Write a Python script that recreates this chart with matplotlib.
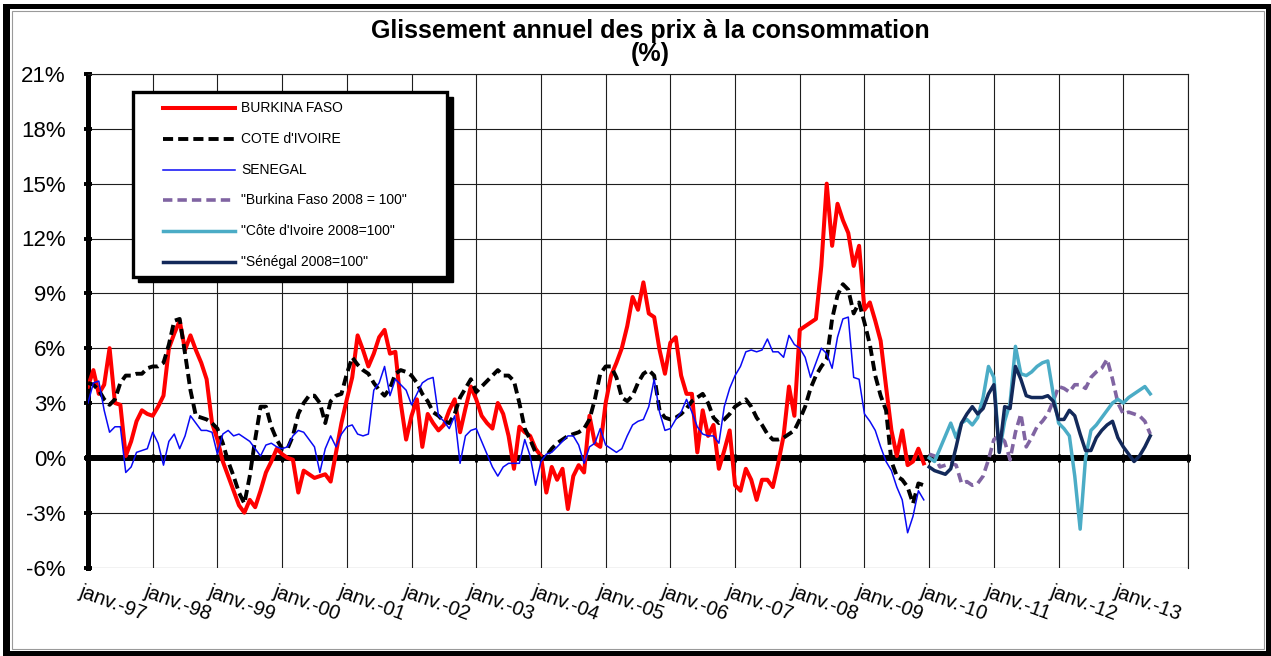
#!/usr/bin/env python3
"""Glissement annuel des prix a la consommation : Burkina Faso, Cote d'Ivoire, Senegal."""

import numpy as np
import matplotlib
matplotlib.use('Agg')
import matplotlib.pyplot as plt
from matplotlib.patches import Rectangle
from matplotlib.transforms import ScaledTranslation

plt.rcParams['font.family'] = ['Liberation Sans', 'DejaVu Sans']

# Monthly year-on-year change in consumer prices (%), janv.-97 .. dec.-09
burkina = [
    3.9, 4.8, 3.5, 4.0, 6.0, 3.0, 2.9, 0.1, 0.9, 2.0, 2.6, 2.4,
    2.3, 2.8, 3.4, 6.0, 6.8, 7.5, 5.9, 6.7, 5.9, 5.2, 4.3, 1.9,
    1.0, -0.2, -1.0, -1.8, -2.6, -3.0, -2.3, -2.7, -1.8, -0.8, -0.2, 0.5,
    0.2, 0.0, -0.1, -1.9, -0.7, -0.9, -1.1, -1.0, -0.9, -1.3, 0.3, 1.9,
    3.2, 4.4, 6.7, 5.9, 5.0, 5.7, 6.6, 7.0, 5.7, 5.8, 3.0, 1.0,
    2.3, 3.2, 0.6, 2.4, 1.9, 1.5, 1.8, 2.6, 3.2, 1.4, 2.7, 3.9,
    3.2, 2.3, 1.9, 1.6, 3.0, 2.4, 1.2, -0.6, 1.7, 1.4, 1.2, 0.5,
    0.1, -1.9, -0.5, -1.2, -0.6, -2.8, -1.0, -0.4, -0.8, 2.3, 0.8, 0.6,
    3.0, 4.5, 5.2, 6.0, 7.2, 8.8, 8.1, 9.6, 7.9, 7.7, 5.9, 4.6,
    6.3, 6.6, 4.5, 3.5, 3.5, 0.3, 2.6, 1.2, 1.8, -0.6, 0.4, 1.5,
    -1.5, -1.8, -0.6, -1.2, -2.3, -1.2, -1.2, -1.6, -0.3, 1.2, 3.9, 2.3,
    7.0, 7.2, 7.4, 7.6, 10.5, 15.0, 11.6, 13.9, 13.0, 12.3, 10.5, 11.6,
    8.1, 8.5, 7.5, 6.4, 3.9, 1.5, 0.1, 1.5, -0.4, -0.2, 0.5, -0.3,
]
cote_ivoire = [
    4.1, 4.0, 3.7, 3.2, 2.9, 3.2, 4.1, 4.5, 4.5, 4.6, 4.6, 4.9,
    5.0, 5.0, 5.2, 6.2, 7.5, 7.6, 5.7, 3.7, 2.3, 2.2, 2.1, 1.9,
    1.6, 0.8, -0.2, -1.0, -1.9, -2.5, -1.0, 1.0, 2.8, 2.8, 1.7, 1.0,
    0.5, 0.5, 1.2, 2.4, 3.0, 3.4, 3.4, 3.0, 1.9, 3.1, 3.4, 3.5,
    4.6, 5.5, 5.1, 4.8, 4.6, 4.1, 3.7, 3.4, 3.8, 4.6, 4.8, 4.7,
    4.5, 4.1, 3.5, 3.1, 2.5, 2.3, 2.0, 1.9, 2.4, 3.3, 3.8, 4.3,
    3.6, 3.9, 4.2, 4.5, 4.8, 4.5, 4.5, 4.2, 3.0, 1.6, 1.0, 0.3,
    -0.1, 0.1, 0.5, 0.8, 1.0, 1.2, 1.3, 1.4, 1.6, 2.1, 3.2, 4.6,
    5.0, 5.0, 4.4, 3.3, 3.1, 3.4, 4.1, 4.6, 4.8, 4.5, 2.6, 2.2,
    2.1, 2.2, 2.4, 2.7, 3.1, 3.3, 3.5, 3.0, 2.2, 1.9, 2.1, 2.4,
    2.8, 3.0, 3.2, 2.8, 2.2, 1.8, 1.3, 1.0, 1.0, 1.1, 1.3, 1.5,
    2.1, 2.8, 3.8, 4.5, 5.0, 5.4, 7.6, 8.9, 9.5, 9.2, 7.9, 8.5,
    7.4, 6.2, 4.5, 3.4, 2.6, -0.2, -1.0, -1.2, -1.6, -2.5, -1.4, -1.5,
]
senegal = [
    3.0, 4.1, 4.2, 2.6, 1.4, 1.7, 1.7, -0.8, -0.5, 0.3, 0.4, 0.5,
    1.4, 0.8, -0.4, 0.9, 1.3, 0.5, 1.2, 2.3, 1.9, 1.5, 1.5, 1.4,
    0.2, 1.3, 1.5, 1.2, 1.3, 1.1, 0.9, 0.5, 0.1, 0.7, 0.8, 0.6,
    0.5, 0.6, 1.2, 1.5, 1.4, 1.0, 0.6, -0.8, 0.5, 1.2, 0.6, 1.3,
    1.7, 1.8, 1.3, 1.2, 1.3, 3.7, 4.1, 5.0, 3.4, 4.3, 4.0, 3.7,
    2.9, 3.5, 4.1, 4.3, 4.4, 2.3, 2.0, 1.6, 2.3, -0.3, 1.2, 1.5,
    1.6, 0.9, 0.2, -0.5, -1.0, -0.5, -0.3, -0.3, -0.3, 1.0, 0.1, -1.5,
    -0.2, 0.2, 0.3, 0.6, 0.9, 1.2, 1.2, 0.7, -0.3, 0.6, 0.8, 1.6,
    0.7, 0.5, 0.3, 0.5, 1.2, 1.8, 2.0, 2.1, 2.8, 4.3, 2.5, 1.5,
    1.6, 2.1, 2.5, 3.2, 2.5, 1.7, 1.3, 1.2, 1.2, 0.8, 2.8, 3.8,
    4.5, 5.0, 5.8, 5.9, 5.8, 5.9, 6.5, 5.8, 5.8, 5.5, 6.7, 6.2,
    6.0, 5.5, 4.4, 5.2, 6.0, 5.7, 4.9, 6.6, 7.6, 7.7, 4.4, 4.3,
    2.4, 2.0, 1.5, 0.6, -0.2, -0.7, -1.6, -2.3, -4.1, -3.2, -1.8, -2.3,
]

# Rebased indices (2008 = 100), janv.-10 .. juin-13
burkina_2008 = [
    0.2, 0.1, -0.5, -0.4, -0.3, -0.4, -1.4, -1.3, -1.5, -1.4, -1.0, -0.1,
    1.0, 1.2, 0.9, -0.1, 1.4, 2.4, 0.6, 1.1, 1.7, 2.0, 2.4, 3.1,
    3.9, 3.8, 3.6, 4.0, 4.0, 3.8, 4.4, 4.7, 4.9, 5.4, 4.3, 3.0,
    2.4, 2.5, 2.4, 2.3, 2.0, 1.3,
]
cote_ivoire_2008 = [
    0.0, -0.2, 0.5, 1.2, 1.9, 1.1, 1.9, 2.1, 1.8, 2.2, 3.3, 5.0,
    4.4, 0.3, 2.0, 3.0, 6.1, 4.6, 4.5, 4.7, 5.0, 5.2, 5.3, 3.5,
    1.9, 1.6, 1.2, -1.0, -3.9, 0.0, 1.5, 1.8, 2.2, 2.6, 3.0, 3.2,
    3.0, 3.3, 3.5, 3.7, 3.9, 3.5,
]
senegal_2008 = [
    -0.5, -0.7, -0.8, -0.9, -0.6, 0.6, 1.9, 2.4, 2.8, 2.4, 2.7, 3.5,
    4.0, 0.3, 2.8, 2.7, 5.0, 4.3, 3.4, 3.3, 3.3, 3.3, 3.4, 3.1,
    2.1, 2.1, 2.6, 2.3, 1.3, 0.4, 0.4, 1.1, 1.5, 1.8, 2.0, 1.1,
    0.6, 0.2, -0.2, 0.1, 0.6, 1.2,
]

labels = [
    'BURKINA FASO',
    "COTE d'IVOIRE",
    'SENEGAL',
    '"Burkina Faso 2008 = 100"',
    '"C\u00f4te d\'Ivoire 2008=100"',
    '"S\u00e9n\u00e9gal 2008=100"',
]
start_years = [1997, 1997, 1997, 2010, 2010, 2010]
years = list(range(1997, 2015))
y_ticks = list(range(-6, 22, 3))

W, H = 1271, 656


def months(start, values):
    return start + np.arange(len(values)) / 12


def px_box(fig, x0, y0, x1, y1, **kw):
    """Rectangle given in pixel coordinates (origin top left)."""
    fig.add_artist(Rectangle((x0 / W, 1 - y1 / H), (x1 - x0) / W, (y1 - y0) / H,
                             transform=fig.transFigure, **kw))


def draw_frame(fig):
    for box in [(3, 4, 1271, 9), (3, 4, 10, 656), (3, 651, 1271, 656), (1266, 4, 1271, 656)]:
        px_box(fig, *box, facecolor='black', edgecolor='none')
    px_box(fig, 12, 11, 1264, 649, fill=False, edgecolor='#9a9a9a', linewidth=0.8)


def draw_legend(ax, styles):
    x0, y0, w, h = 0.0409, 0.5887, 0.2855, 0.3748
    ax.add_patch(Rectangle((x0 + 0.005, y0 - 0.011), w, h, transform=ax.transAxes,
                           facecolor='black', edgecolor='black', zorder=8))
    ax.add_patch(Rectangle((x0, y0), w, h, transform=ax.transAxes,
                           facecolor='white', edgecolor='black', linewidth=2.4, zorder=9))
    for i, (label, style) in enumerate(zip(labels, styles)):
        y = 0.9311 - i * 0.0624
        ax.plot([0.0682, 0.1336], [y, y], transform=ax.transAxes, zorder=10, **style)
        ax.text(0.1391, y, label, transform=ax.transAxes, fontsize=10,
                va='center', ha='left', zorder=10)


def main():
    fig = plt.figure(figsize=(W / 100, H / 100), dpi=100)
    ax = fig.add_axes([88 / W, (H - 567.5) / H, 1100 / W, 493.5 / H])

    series = [burkina, cote_ivoire, senegal, burkina_2008, cote_ivoire_2008, senegal_2008]
    styles = [
        dict(color='#ff0000', lw=2.9, ls='-'),
        dict(color='black', lw=2.8, ls=(0, (2.6, 1.3))),
        dict(color='#0a0af5', lw=1.1, ls='-'),
        dict(color='#8064a2', lw=2.6, ls=(0, (2.6, 1.4))),
        dict(color='#4bacc6', lw=2.5, ls='-'),
        dict(color='#13295a', lw=2.5, ls='-'),
    ]
    for values, start, style in zip(series, start_years, styles):
        ax.plot(months(start, values), values, solid_joinstyle='round', zorder=3, **style)

    ax.set_xlim(years[0], years[-1])
    ax.set_ylim(y_ticks[0], y_ticks[-1])
    ax.set_xticks(years)
    ax.set_yticks(y_ticks)
    ax.set_yticklabels([f'{v}%' for v in y_ticks])
    ax.grid(True, color='#1e1e1e', linewidth=0.8)
    ax.set_axisbelow(True)

    ax.spines['bottom'].set_position(('data', 0))
    ax.spines['bottom'].set_linewidth(4.3)
    ax.spines['left'].set_linewidth(3.6)
    for side in ['top', 'right']:
        ax.spines[side].set_linewidth(0.8)
        ax.spines[side].set_color('#1e1e1e')
    ax.tick_params(axis='x', direction='inout', length=6, width=2.2, labelbottom=False)
    ax.tick_params(axis='y', direction='inout', length=6, width=2.8, labelsize=16, pad=13)

    # year labels sit below the plot, slanted
    offset = ScaledTranslation(-0.05, -0.15, fig.dpi_scale_trans)
    for yr in years[:-1]:
        ax.text(yr, 0, f'janv.-{yr % 100:02d}', transform=ax.get_xaxis_transform() + offset,
                rotation=-20, rotation_mode='anchor', ha='left', va='top', fontsize=14.5)

    draw_legend(ax, styles)

    fig.text(650 / W, 1 - 38 / H, 'Glissement annuel des prix \u00e0 la consommation',
             ha='center', va='baseline', fontsize=18, fontweight='bold')
    fig.text(650 / W, 1 - 61 / H, '(%)', ha='center', va='baseline', fontsize=18, fontweight='bold')

    draw_frame(fig)
    fig.savefig('out.png', dpi=100)


if __name__ == '__main__':
    main()
